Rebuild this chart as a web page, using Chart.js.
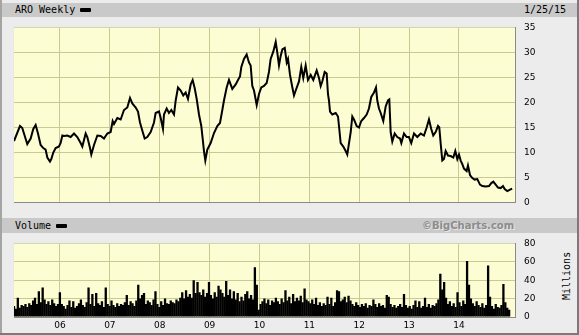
<!DOCTYPE html>
<html><head><meta charset="utf-8">
<script src="https://cdn.jsdelivr.net/npm/chart.js@4.4.1/dist/chart.umd.min.js"></script>
<style>
html,body{margin:0;padding:0;background:#ececec;}
#frame{position:relative;width:579px;height:335px;background:#ececec;overflow:hidden;}
.edge{position:absolute;}
.hbar{position:absolute;left:2px;width:575px;background:#c9c9c9;}
.mono{position:absolute;font-family:"DejaVu Sans Mono",monospace;font-size:10px;color:#000;line-height:12px;white-space:nowrap;}
.sw{position:absolute;width:11px;height:4px;background:#000;border-radius:1px;}
canvas{position:absolute;left:0;}
#bc{position:absolute;font-family:"DejaVu Sans",sans-serif;font-weight:bold;font-size:10px;color:#8c8c8c;line-height:12px;white-space:nowrap;text-shadow:1px 1px 0 #e6e6e6;}
#mil{position:absolute;left:544px;top:271px;width:46px;text-align:center;transform:rotate(-90deg);transform-origin:50% 50%;}
</style></head>
<body>
<div id="frame">
  <div class="edge" style="left:0;top:0;width:2px;height:335px;background:#a4a4a4"></div>
  <div class="edge" style="left:577px;top:0;width:2px;height:335px;background:#7a7a7a"></div>
  <div class="edge" style="left:0;top:333px;width:579px;height:2px;background:#7a7a7a"></div>
  <div class="hbar" style="top:3px;height:14px"></div>
  <div class="hbar" style="top:218px;height:15px"></div>
  <div class="mono" style="left:15px;top:4px">ARO Weekly</div>
  <div class="sw" style="left:80px;top:8px"></div>
  <div class="mono" style="left:524px;top:4px">1/25/15</div>
  <div class="mono" style="left:15px;top:220px">Volume</div>
  <div class="sw" style="left:56px;top:224px"></div>
  <div id="bc" style="left:422px;top:220px">©BigCharts.com</div>
  <div id="mil" class="mono">Millions</div>
  <canvas id="price" width="579" height="204" style="top:13px"></canvas>
  <canvas id="vol" width="579" height="106" style="top:229px"></canvas>
</div>
<script>
// ---- data ----
const yearTicks = [2006,2007,2008,2009,2010,2011,2012,2013,2014];
const yearLabels = ['06','07','08','09','10','11','12','13','14'];
const priceTicks = [0,5,10,15,20,25,30,35];
const volumeTicks = [0,20,40,60,80];
const xMin = 2005.078, xMax = 2015.123;

const priceDates = [
2005.078,2005.198,2005.244,2005.344,2005.412,2005.465,2005.512,2005.559,2005.612,2005.665,2005.712,2005.746,2005.799,2005.826,2005.866,2005.913,2005.980,
2006.013,2006.047,2006.080,2006.147,2006.214,2006.281,2006.347,2006.414,2006.448,2006.515,2006.548,2006.602,2006.628,2006.682,2006.749,2006.816,2006.882,2006.949,
2007.016,2007.056,2007.083,2007.150,2007.217,2007.283,2007.350,2007.404,2007.450,2007.518,2007.564,2007.604,2007.650,2007.698,2007.750,2007.818,2007.885,2007.918,2007.985,
2008.019,2008.065,2008.085,2008.139,2008.185,2008.232,2008.286,2008.320,2008.366,2008.420,2008.472,2008.520,2008.566,2008.620,2008.660,2008.700,2008.741,2008.787,2008.833,2008.861,2008.887,2008.914,2008.954,
2009.021,2009.088,2009.154,2009.208,2009.255,2009.288,2009.342,2009.388,2009.455,2009.523,2009.569,2009.609,2009.636,2009.689,2009.743,2009.789,2009.823,2009.856,2009.890,2009.944,2009.990,
2010.036,2010.090,2010.144,2010.190,2010.224,2010.278,2010.325,2010.358,2010.391,2010.425,2010.458,2010.506,2010.546,2010.572,2010.612,2010.659,2010.692,2010.726,2010.792,2010.838,2010.878,2010.926,2010.972,
2011.027,2011.079,2011.147,2011.193,2011.227,2011.259,2011.307,2011.347,2011.373,2011.393,2011.414,2011.460,2011.528,2011.574,2011.600,2011.628,2011.680,2011.728,2011.760,2011.795,2011.829,2011.861,2011.895,2011.949,2011.995,
2012.041,2012.095,2012.149,2012.195,2012.241,2012.296,2012.336,2012.362,2012.396,2012.430,2012.482,2012.530,2012.576,2012.603,2012.630,2012.663,2012.711,2012.763,2012.817,2012.844,2012.897,2012.951,2012.997,
2013.043,2013.098,2013.164,2013.232,2013.298,2013.352,2013.398,2013.444,2013.484,2013.532,2013.579,2013.605,2013.632,2013.665,2013.699,2013.733,2013.779,2013.833,2013.886,2013.926,2013.966,
2014.000,2014.034,2014.067,2014.100,2014.154,2014.180,2014.221,2014.267,2014.315,2014.367,2014.421,2014.468,2014.535,2014.602,2014.648,2014.689,2014.736,2014.782,2014.836,2014.882,2014.916,2014.970,
2015.023,2015.066
];
const prices = [
12.3,15.3,14.9,11.7,12.8,14.7,15.5,13.8,11.5,10.9,10.6,9.0,8.2,8.7,10.0,10.9,11.2,
11.9,13.4,13.3,13.4,13.1,13.8,13.1,11.9,11.2,13.8,13.1,10.9,9.6,11.5,13.4,13.3,12.8,13.8,
14.1,16.3,15.7,16.9,16.6,18.5,19.0,20.9,19.8,19.0,18.2,16.0,14.4,12.8,13.1,14.1,16.0,17.9,18.2,
16.9,14.7,17.6,18.8,17.9,18.5,17.6,20.4,23.0,22.4,21.4,22.0,20.7,23.6,24.5,22.9,20.7,17.6,15.3,12.8,10.3,8.4,10.6,
11.9,13.9,15.3,15.9,18.5,20.4,23.0,24.5,22.7,23.6,24.5,25.2,27.1,28.7,29.6,28.0,27.4,23.3,22.4,19.5,21.7,
23.0,23.3,23.9,26.1,28.7,30.2,32.1,29.9,27.4,29.3,30.6,30.9,28.0,28.7,25.5,23.0,21.4,22.4,24.2,27.1,24.9,27.4,24.5,
25.5,24.5,26.4,24.9,23.3,24.2,26.1,25.8,21.7,20.4,18.2,17.6,17.9,17.2,14.7,11.9,11.2,10.3,9.6,11.9,14.1,17.2,16.6,15.3,15.0,
16.3,16.9,17.6,18.8,21.1,22.0,23.0,20.4,18.8,17.9,16.3,19.2,20.4,20.6,14.1,12.2,13.8,13.1,12.8,11.9,13.8,13.1,13.1,
11.9,13.8,13.1,13.8,13.4,15.0,16.6,14.7,13.4,14.1,15.3,15.0,11.9,8.4,8.7,10.3,9.4,9.3,9.0,10.3,8.7,
9.6,8.4,7.7,6.8,6.3,7.4,5.5,4.9,4.6,4.7,3.6,3.3,3.2,3.3,3.9,4.2,3.6,3.0,2.9,3.3,2.7,2.3,
2.6,2.8
];

// bi-weekly volume (millions), first bar at volStart
const volStart = 2005.078, volStep = 14/365.25;
const volumes = [
12,9,21,10,13,12,14,11,15,13,18,21,14,28,16,32,19,14,17,13,19,15,12,14,27,
14,12,9,13,18,11,17,10,12,15,19,13,11,16,32,14,25,12,26,15,13,17,11,32,14,12,
18,13,11,15,12,14,13,16,24,13,17,15,12,18,35,20,24,26,14,18,16,13,19,28,14,11,
17,13,20,15,14,18,16,15,19,17,21,27,20,29,22,25,21,40,26,38,27,24,30,22,26,38,
24,20,27,22,34,30,26,22,39,24,30,20,28,19,26,17,22,18,25,28,20,24,19,54,35,8,
14,17,20,15,19,13,18,16,21,17,14,20,16,29,18,22,15,25,17,21,18,23,16,31,19,17,
15,19,14,21,13,16,12,15,13,22,14,21,12,16,29,28,17,19,22,16,23,18,14,12,16,13,
11,14,12,15,10,13,12,19,14,11,15,12,13,10,24,22,14,11,13,10,12,14,11,25,13,10,
12,9,13,18,11,17,10,12,21,11,14,10,13,12,15,19,47,30,38,21,14,17,12,15,11,27,
16,12,18,14,61,35,20,15,12,17,13,11,15,10,13,56,22,12,9,14,11,10,13,36,16,10,8
];

// ---- styling ----
const GRID = '#c9c993';
const EDGE_DARK = '#8a8a8a';
const tickFont = {family:'DejaVu Sans', size:9};

const plotBg = {
  id:'plotBg',
  beforeDraw(chart){
    const {ctx, chartArea:a} = chart;
    ctx.save();
    ctx.fillStyle = '#fdfdd3';
    ctx.fillRect(a.left, a.top, a.right-a.left, a.bottom-a.top);
    ctx.restore();
  },
  afterDraw(chart){
    const {ctx, chartArea:a} = chart;
    ctx.save();
    ctx.strokeStyle = '#e8e8e8';
    ctx.lineWidth = 1;
    ctx.beginPath();
    ctx.moveTo(a.left-0.5, a.bottom); ctx.lineTo(a.left-0.5, a.top-0.5); ctx.lineTo(a.right, a.top-0.5);
    ctx.stroke();
    ctx.restore();
  }
};

function xScale(showLabels, h){
  return {
    type:'linear', min:xMin, max:xMax, offset:false,
    afterBuildTicks: s => { s.ticks = yearTicks.map(v => ({value:v})); },
    afterFit: s => { s.height = h; },
    grid:{color:GRID, lineWidth:1, drawTicks:false, offset:false},
    border:{display:true, color:EDGE_DARK},
    ticks:{display:showLabels, autoSkip:false, maxRotation:0, padding:3, color:'#000', font:tickFont,
      callback:(v) => yearLabels[yearTicks.indexOf(v)] }
  };
}
function yScale(max, ticks){
  return {
    position:'right', min:0, max:max,
    afterBuildTicks: s => { s.ticks = ticks.map(v => ({value:v})); },
    afterFit: s => { s.width = 64; },
    grid:{color:GRID, lineWidth:1, drawTicks:false},
    border:{display:true, color:EDGE_DARK},
    ticks:{padding:9, color:'#000', font:tickFont}
  };
}

new Chart(document.getElementById('price'), {
  type:'line',
  data:{datasets:[{
    data: priceDates.map((d,i) => ({x:d, y:prices[i]})),
    borderColor:'#000', borderWidth:2, pointRadius:0, tension:0, fill:false
  }]},
  options:{
    responsive:false, animation:false, devicePixelRatio:1,
    layout:{padding:{left:14, top:10, right:0, bottom:0}},
    plugins:{legend:{display:false}, tooltip:{enabled:false}},
    scales:{ x:xScale(false, 10), y:yScale(35, priceTicks) }
  },
  plugins:[plotBg]
});

new Chart(document.getElementById('vol'), {
  type:'bar',
  data:{datasets:[{
    data: volumes.map((v,i) => ({x: volStart + i*volStep, y:v})),
    backgroundColor:'#000', borderWidth:0, barThickness:2.3, inflateAmount:0
  }]},
  options:{
    responsive:false, animation:false, devicePixelRatio:1,
    layout:{padding:{left:14, top:10, right:0, bottom:0}},
    plugins:{legend:{display:false}, tooltip:{enabled:false}},
    scales:{ x:xScale(true, 18), y:yScale(80, volumeTicks) }
  },
  plugins:[plotBg]
});
</script>
</body></html>
